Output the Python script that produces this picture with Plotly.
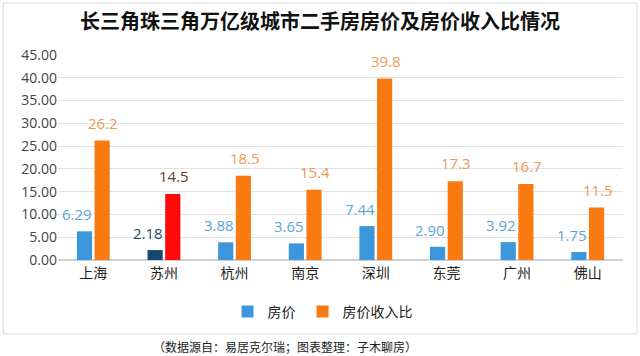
import plotly.graph_objects as go

cities = ["上海", "苏州", "杭州", "南京", "深圳", "东莞", "广州", "佛山"]
price = [6.29, 2.18, 3.88, 3.65, 7.44, 2.90, 3.92, 1.75]
ratio = [26.2, 14.5, 18.5, 15.4, 39.8, 17.3, 16.7, 11.5]
yticks = [0, 5, 10, 15, 20, 25, 30, 35, 40, 45]

BLUE = "#3C96DB"
ORANGE = "#FA7A12"
price_colors = [BLUE if c != "苏州" else "#15466E" for c in cities]
ratio_colors = [ORANGE if c != "苏州" else "#FF0A0A" for c in cities]
price_text_colors = ["#5AA6D8" if c != "苏州" else "#1E4A6E" for c in cities]
ratio_text_colors = ["#EE9A55" if c != "苏州" else "#6A3A18" for c in cities]

fig = go.Figure()
fig.add_trace(go.Bar(
    name="房价", x=cities, y=price, legendwidth=30,
    marker=dict(color=price_colors, line=dict(width=0)),
))
fig.add_trace(go.Bar(
    name="房价收入比", x=cities, y=ratio, legendwidth=72,
    marker=dict(color=ratio_colors, line=dict(width=0)),
))

# data labels, anchored to the data values
for c, v, col in zip(cities, price, price_text_colors):
    fig.add_annotation(x=c, y=v, text=f"{v:.2f}", showarrow=False,
                       xanchor="center", yanchor="bottom", xshift=-16, yshift=5,
                       font=dict(size=15, color=col, family="Open Sans"))
for c, v, col in zip(cities, ratio, ratio_text_colors):
    fig.add_annotation(x=c, y=v, text=f"{v:.1f}", showarrow=False,
                       xanchor="center", yanchor="bottom", xshift=10, yshift=6,
                       font=dict(size=15, color=col, family="Open Sans"))

fig.update_layout(
    width=640, height=356,
    margin=dict(l=58, r=17, t=54, b=96),
    paper_bgcolor="white", plot_bgcolor="white",
    barmode="group", bargap=0.5, bargroupgap=0.14,
    title=dict(text="<b>长三角珠三角万亿级城市二手房房价及房价收入比情况</b>",
               x=0.5, xanchor="center", y=0.938, yanchor="middle",
               font=dict(size=20, color="#111111", family="Noto Sans CJK SC")),
    xaxis=dict(showgrid=False, showline=True, linecolor="#D0D0D0", linewidth=1,
               ticks="", tickfont=dict(size=14, color="#222222", family="Noto Sans CJK SC")),
    yaxis=dict(range=[0, 45.2], tickvals=yticks, tickformat=".2f",
               showgrid=True, gridcolor="#E2E2E2", gridwidth=1,
               zeroline=True, zerolinecolor="#D0D0D0", showline=False,
               tickfont=dict(size=14, color="#444444", family="Open Sans")),
    legend=dict(orientation="h", x=0.47, xanchor="center", y=-0.252, yanchor="middle",
                font=dict(size=14, color="#222222", family="Noto Sans CJK SC"),
                itemwidth=30, traceorder="normal", entrywidthmode="pixels"),
    showlegend=True,
)

fig.add_shape(type="rect", xref="paper", yref="paper",
              x0=-0.097, x1=1.025, y0=-0.359, y1=1.248,
              line=dict(color="#DADADA", width=1), layer="below")

fig.add_annotation(text="（数据源自：易居克尔瑞；图表整理：子木聊房）",
                   xref="paper", yref="paper", x=0.402, y=-0.422,
                   xanchor="center", yanchor="middle", showarrow=False,
                   font=dict(size=12, color="#222222", family="Noto Sans CJK SC"))

fig.write_html("out.html", config={"displayModeBar": False},
               post_script="document.body.style.margin='0';")
